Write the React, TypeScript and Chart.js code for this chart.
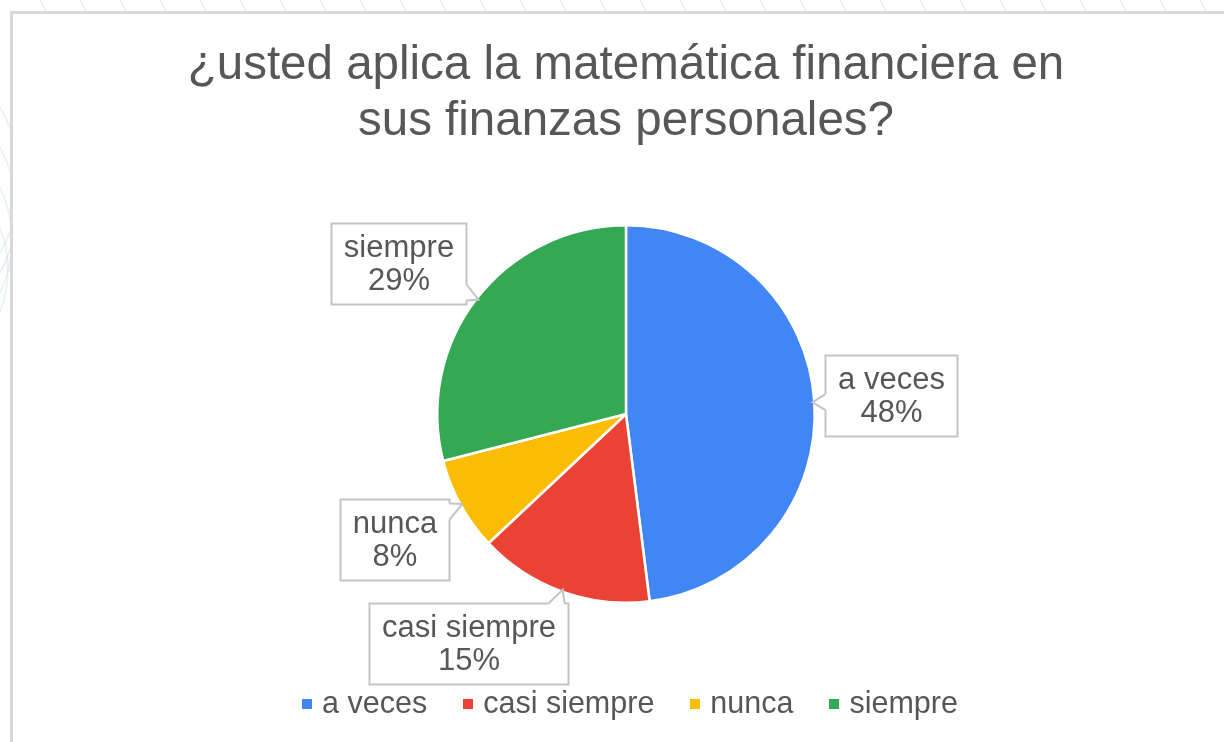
import React, { useEffect, useRef } from "react";
import { Chart, registerables } from "chart.js";

Chart.register(...registerables);

// ---------- data ----------
const TITLE_LINES = ["¿usted aplica la matemática financiera en", "sus finanzas personales?"];
const CATEGORIES = ["a veces", "casi siempre", "nunca", "siempre"];
const PERCENTS = [48, 15, 8, 29];
const COLORS = ["#4285F4", "#EA4335", "#FBBC04", "#34A853"];

// ---------- style ----------
const FONT = "'Liberation Sans', Arial, Helvetica, sans-serif";
const TEXT_COLOR = "#575757";
const LABEL_FONT_SIZE = 31;
const LABEL_LINE_H = 33;
const LABEL_PAD_X = 12.5;
const LABEL_PAD_Y = 7.5;
const LABEL_GAP = 11;
const LABEL_BORDER = "#c4c4c4";
const TAIL_HALF = 8;

const LEGEND_FONT_SIZE = 30.5;
const LEGEND_MARK = 10;
const LEGEND_MARK_GAP = 10;
const LEGEND_SPACING = 36;
const LEGEND_OFFSET = 100;

const clamp = (v: number, lo: number, hi: number) => Math.max(lo, Math.min(hi, v));

const backgroundPlugin = {
  id: "pageBackground",
  beforeDraw(chart: any) {
    const { ctx, width, height } = chart;
    ctx.save();
    ctx.fillStyle = "#ffffff";
    ctx.fillRect(0, 0, width, height);
    // faint watermark strokes in the page margin
    ctx.strokeStyle = "rgba(200,220,232,0.45)";
    ctx.lineWidth = 1.5;
    for (let x = 40; x < width; x += 40) {
      ctx.beginPath();
      ctx.moveTo(x, 0);
      ctx.lineTo(x + 6, 11);
      ctx.stroke();
    }
    for (let k = 0; k < 4; k++) {
      ctx.beginPath();
      ctx.arc(-120 + k * 6, 180 + k * 30, 140 - k * 10, -0.6, 0.6);
      ctx.stroke();
    }
    // chart frame
    ctx.fillStyle = "#ffffff";
    ctx.fillRect(11, 12, width, height);
    ctx.strokeStyle = "#d9d9d9";
    ctx.lineWidth = 3;
    ctx.beginPath();
    ctx.moveTo(11.5, height + 5);
    ctx.lineTo(11.5, 12.5);
    ctx.lineTo(width + 5, 12.5);
    ctx.stroke();
    ctx.restore();
  },
};

const calloutPlugin = {
  id: "callouts",
  afterDatasetsDraw(chart: any) {
    const ctx = chart.ctx;
    const meta = chart.getDatasetMeta(0);
    const ds = chart.data.datasets[0];
    const values = ds.data as number[];
    const total = values.reduce((a, b) => a + b, 0);
    ctx.save();
    ctx.font = `${LABEL_FONT_SIZE}px ${FONT}`;
    meta.data.forEach((arc: any, i: number) => {
      const p = arc.getProps(["x", "y", "startAngle", "endAngle", "outerRadius"], true);
      const mid = (p.startAngle + p.endAngle) / 2;
      const dx = Math.cos(mid);
      const dy = Math.sin(mid);
      const ax = p.x + dx * p.outerRadius;
      const ay = p.y + dy * p.outerRadius;
      const lines = [String(chart.data.labels[i]), Math.round((values[i] / total) * 100) + "%"];
      const tw = Math.max(...lines.map((l) => ctx.measureText(l).width));
      const w = tw + 2 * LABEL_PAD_X;
      const h = LABEL_LINE_H * lines.length + 2 * LABEL_PAD_Y;
      let bx: number, by: number;
      const horizontal = Math.abs(dx) >= Math.abs(dy);
      if (horizontal) {
        bx = dx > 0 ? ax + LABEL_GAP : ax - LABEL_GAP - w;
        const shift = clamp(dy * 100, -(h / 2 - 6), h / 2 - 6);
        by = ay + shift - h / 2;
      } else {
        by = dy > 0 ? ay + LABEL_GAP : ay - LABEL_GAP - h;
        const shift = clamp(dx * 300, -(w / 2 - 6), w / 2 - 6);
        bx = ax + shift - w / 2;
      }
      bx = Math.round(bx) + 0.5;
      by = Math.round(by) + 0.5;
      const W = Math.round(w);
      const H = Math.round(h);

      // box
      ctx.fillStyle = "#ffffff";
      ctx.strokeStyle = LABEL_BORDER;
      ctx.lineWidth = 2;
      ctx.fillRect(bx, by, W, H);
      ctx.strokeRect(bx, by, W, H);

      // tail
      let b1x, b1y, b2x, b2y, f1x, f1y, f2x, f2y;
      const apx = ax - dx * 2;
      const apy = ay - dy * 2;
      if (horizontal) {
        const edgeX = dx > 0 ? bx : bx + W;
        const inward = dx > 0 ? 1 : -1;
        const c = clamp(ay, by + 4 + TAIL_HALF, by + H - 4 - TAIL_HALF);
        b1x = edgeX; b1y = c - TAIL_HALF; b2x = edgeX; b2y = c + TAIL_HALF;
        f1x = edgeX + inward * 1.5; f1y = b1y; f2x = f1x; f2y = b2y;
      } else {
        const edgeY = dy > 0 ? by : by + H;
        const inward = dy > 0 ? 1 : -1;
        const c = clamp(ax, bx + 4 + TAIL_HALF, bx + W - 4 - TAIL_HALF);
        b1x = c - TAIL_HALF; b1y = edgeY; b2x = c + TAIL_HALF; b2y = edgeY;
        f1x = b1x; f1y = edgeY + inward * 1.5; f2x = b2x; f2y = f1y;
      }
      ctx.beginPath();
      ctx.moveTo(f1x, f1y);
      ctx.lineTo(b1x, b1y);
      ctx.lineTo(apx, apy);
      ctx.lineTo(b2x, b2y);
      ctx.lineTo(f2x, f2y);
      ctx.closePath();
      ctx.fill();
      ctx.beginPath();
      ctx.moveTo(b1x, b1y);
      ctx.lineTo(apx, apy);
      ctx.lineTo(b2x, b2y);
      ctx.stroke();

      // text
      ctx.fillStyle = TEXT_COLOR;
      ctx.textAlign = "center";
      ctx.textBaseline = "middle";
      const cx = bx + W / 2;
      const cy = by + H / 2;
      lines.forEach((l, k) => {
        const ly = cy + (k - (lines.length - 1) / 2) * LABEL_LINE_H + 1;
        ctx.fillText(l, cx, ly);
      });
    });
    ctx.restore();
  },
};

const legendPlugin = {
  id: "bottomLegend",
  afterDraw(chart: any) {
    const ctx = chart.ctx;
    ctx.save();
    ctx.font = `${LEGEND_FONT_SIZE}px ${FONT}`;
    const colors = chart.data.datasets[0].backgroundColor as string[];
    const items = (chart.data.labels as string[]).map((t, i) => ({
      text: t,
      color: colors[i],
      w: ctx.measureText(t).width,
    }));
    const totalW =
      items.reduce((s, it) => s + LEGEND_MARK + LEGEND_MARK_GAP + it.w, 0) +
      LEGEND_SPACING * (items.length - 1);
    let x = (chart.chartArea.left + chart.chartArea.right) / 2 - totalW / 2 + 4;
    const y = chart.chartArea.bottom + LEGEND_OFFSET;
    ctx.textAlign = "left";
    ctx.textBaseline = "middle";
    items.forEach((it) => {
      ctx.fillStyle = it.color;
      ctx.fillRect(Math.round(x), Math.round(y - LEGEND_MARK / 2), LEGEND_MARK, LEGEND_MARK);
      x += LEGEND_MARK + LEGEND_MARK_GAP;
      ctx.fillStyle = TEXT_COLOR;
      ctx.fillText(it.text, x, y + 1);
      x += it.w + LEGEND_SPACING;
    });
    ctx.restore();
  },
};

export default function App() {
  const canvasRef = useRef<HTMLCanvasElement | null>(null);

  useEffect(() => {
    if (!canvasRef.current) return;
    const chart = new Chart(canvasRef.current, {
      type: "pie",
      data: {
        labels: CATEGORIES,
        datasets: [
          {
            data: PERCENTS,
            backgroundColor: COLORS,
            borderColor: "#ffffff",
            borderWidth: 2.5,
            hoverOffset: 0,
            offset: 0,
          },
        ],
      },
      options: {
        responsive: false,
        animation: false,
        events: [],
        layout: { padding: { left: 28, right: 0, top: 0, bottom: 138 } },
        plugins: {
          legend: { display: false },
          tooltip: { enabled: false },
          title: {
            display: true,
            text: TITLE_LINES,
            color: TEXT_COLOR,
            font: { family: FONT, size: 47.5, weight: "normal", lineHeight: 1.19 },
            padding: { top: 37.5, bottom: 73.5 },
          },
        },
      },
      plugins: [backgroundPlugin, calloutPlugin, legendPlugin],
    });
    return () => chart.destroy();
  }, []);

  return (
    <div style={{ position: "fixed", left: 0, top: 0, width: 1224, height: 742, background: "#fff" }}>
      <canvas ref={canvasRef} width={1224} height={742} style={{ width: 1224, height: 742, display: "block" }} />
    </div>
  );
}
